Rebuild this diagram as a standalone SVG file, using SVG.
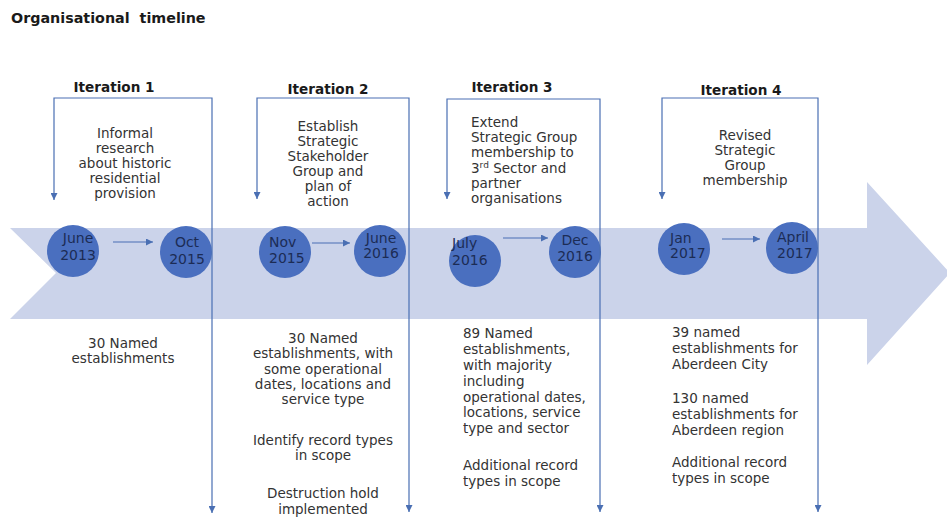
<svg xmlns="http://www.w3.org/2000/svg" width="947" height="518" viewBox="0 0 947 518">
  <style>
    .title { font-family: "DejaVu Sans", Verdana, sans-serif; font-weight: bold; font-size: 14.3px; fill: #1a1a1a; }
    .iter { font-family: "DejaVu Sans", Verdana, sans-serif; font-weight: bold; font-size: 13.6px; fill: #1a1a1a; text-anchor: middle; }
    .body { font-family: "DejaVu Sans", Verdana, sans-serif; font-size: 13.5px; fill: #333333; }
    .mid { text-anchor: middle; }
    .date { font-family: "DejaVu Sans", Verdana, sans-serif; font-size: 14px; fill: #1c2c55; }
    .dot { fill: #4a6fbf; }
    .band { fill: #cbd3ea; }
    .conn { fill: none; stroke: #4a6fb3; stroke-width: 1.2; }
    .head { fill: #4a6fb3; }
  </style>
  <defs>
    <marker id="tip" viewBox="0 0 6 6" refX="6" refY="3" markerUnits="userSpaceOnUse" markerWidth="7" markerHeight="7" orient="auto-start-reverse">
      <path class="head" d="M0,0 L6,3 L0,6 z"/>
    </marker>
  </defs>

  <rect width="947" height="518" fill="#ffffff"/>

  <text class="title" x="11" y="23" xml:space="preserve">Organisational  timeline</text>

  <!-- timeline band -->
  <polygon id="timeline-band" class="band" points="10,228 867,228 867,182 950,273 867,365 867,319 10,319 56,273"/>

  <!-- Iteration 1 -->
  <g id="iteration-1">
    <text class="iter" x="114" y="92">Iteration 1</text>
    <text class="body mid" x="125" y="138">Informal</text>
    <text class="body mid" x="125" y="153">research</text>
    <text class="body mid" x="125" y="168">about historic</text>
    <text class="body mid" x="125" y="183">residential</text>
    <text class="body mid" x="125" y="198">provision</text>
    <text class="body mid" x="123" y="348">30 Named</text>
    <text class="body mid" x="123" y="363">establishments</text>
  </g>
  <g id="june-2013">
    <circle class="dot" cx="73" cy="251" r="26"/>
    <text class="date mid" x="78" y="243">June</text>
    <text class="date mid" x="78" y="260">2013</text>
  </g>
  <g id="oct-2015">
    <circle class="dot" cx="186" cy="252" r="26"/>
    <text class="date mid" x="187" y="247">Oct</text>
    <text class="date mid" x="187" y="264">2015</text>
  </g>

  <!-- Iteration 2 -->
  <g id="iteration-2">
    <text class="iter" x="328" y="94">Iteration 2</text>
    <text class="body mid" x="328" y="131">Establish</text>
    <text class="body mid" x="328" y="146">Strategic</text>
    <text class="body mid" x="328" y="161">Stakeholder</text>
    <text class="body mid" x="328" y="176">Group and</text>
    <text class="body mid" x="328" y="191">plan of</text>
    <text class="body mid" x="328" y="206">action</text>
    <text class="body mid" x="323" y="343">30 Named</text>
    <text class="body mid" x="323" y="358">establishments, with</text>
    <text class="body mid" x="323" y="374">some operational</text>
    <text class="body mid" x="323" y="389">dates, locations and</text>
    <text class="body mid" x="323" y="404">service type</text>
    <text class="body mid" x="323" y="445">Identify record types</text>
    <text class="body mid" x="323" y="460">in scope</text>
    <text class="body mid" x="323" y="498">Destruction hold</text>
    <text class="body mid" x="323" y="514">implemented</text>
  </g>
  <g id="nov-2015">
    <circle class="dot" cx="285" cy="252" r="26"/>
    <text class="date" x="269" y="247">Nov</text>
    <text class="date" x="269" y="263">2015</text>
  </g>
  <g id="june-2016">
    <circle class="dot" cx="380" cy="251" r="26"/>
    <text class="date mid" x="381" y="243">June</text>
    <text class="date mid" x="381" y="258">2016</text>
  </g>

  <!-- Iteration 3 -->
  <g id="iteration-3">
    <text class="iter" x="512" y="92">Iteration 3</text>
    <text class="body" x="471" y="127">Extend</text>
    <text class="body" x="471" y="142">Strategic Group</text>
    <text class="body" x="471" y="157">membership to</text>
    <text class="body" x="471" y="172.5">3<tspan font-size="9" dy="-5">rd</tspan><tspan dy="5"> Sector and</tspan></text>
    <text class="body" x="471" y="187.5">partner</text>
    <text class="body" x="471" y="202.5">organisations</text>
    <text class="body" x="463" y="338">89 Named</text>
    <text class="body" x="463" y="354">establishments,</text>
    <text class="body" x="463" y="370">with majority</text>
    <text class="body" x="463" y="386">including</text>
    <text class="body" x="463" y="402">operational dates,</text>
    <text class="body" x="463" y="417">locations, service</text>
    <text class="body" x="463" y="433">type and sector</text>
    <text class="body" x="463" y="470">Additional record</text>
    <text class="body" x="463" y="486">types in scope</text>
  </g>
  <g id="july-2016">
    <circle class="dot" cx="475" cy="261" r="26"/>
    <text class="date" x="452" y="248">July</text>
    <text class="date" x="452" y="265">2016</text>
  </g>
  <g id="dec-2016">
    <circle class="dot" cx="575" cy="252" r="26"/>
    <text class="date mid" x="575" y="245">Dec</text>
    <text class="date mid" x="575" y="261">2016</text>
  </g>

  <!-- Iteration 4 -->
  <g id="iteration-4">
    <text class="iter" x="741" y="95">Iteration 4</text>
    <text class="body mid" x="745" y="140">Revised</text>
    <text class="body mid" x="745" y="155">Strategic</text>
    <text class="body mid" x="745" y="170">Group</text>
    <text class="body mid" x="745" y="185">membership</text>
    <text class="body" x="672" y="337">39 named</text>
    <text class="body" x="672" y="353">establishments for</text>
    <text class="body" x="672" y="369">Aberdeen City</text>
    <text class="body" x="672" y="403">130 named</text>
    <text class="body" x="672" y="419">establishments for</text>
    <text class="body" x="672" y="435">Aberdeen region</text>
    <text class="body" x="672" y="467">Additional record</text>
    <text class="body" x="672" y="483">types in scope</text>
  </g>
  <g id="jan-2017">
    <circle class="dot" cx="684" cy="249" r="26"/>
    <text class="date" x="670" y="243">Jan</text>
    <text class="date" x="670" y="258">2017</text>
  </g>
  <g id="april-2017">
    <circle class="dot" cx="792" cy="248" r="26"/>
    <text class="date" x="777" y="242">April</text>
    <text class="date" x="777" y="258">2017</text>
  </g>

  <!-- connectors -->
  <g id="connectors">
    <path class="conn" d="M54,200 V98 H212 V513" marker-start="url(#tip)" marker-end="url(#tip)"/>
    <path class="conn" d="M257,199 V98 H409 V512" marker-start="url(#tip)" marker-end="url(#tip)"/>
    <path class="conn" d="M447,199 V99 H600 V512" marker-start="url(#tip)" marker-end="url(#tip)"/>
    <path class="conn" d="M662,199 V98 H818 V512" marker-start="url(#tip)" marker-end="url(#tip)"/>
    <path class="conn" d="M113,242 H153" marker-end="url(#tip)"/>
    <path class="conn" d="M312,243 H350" marker-end="url(#tip)"/>
    <path class="conn" d="M503,238 H548" marker-end="url(#tip)"/>
    <path class="conn" d="M722,239 H760" marker-end="url(#tip)"/>
  </g>
</svg>
